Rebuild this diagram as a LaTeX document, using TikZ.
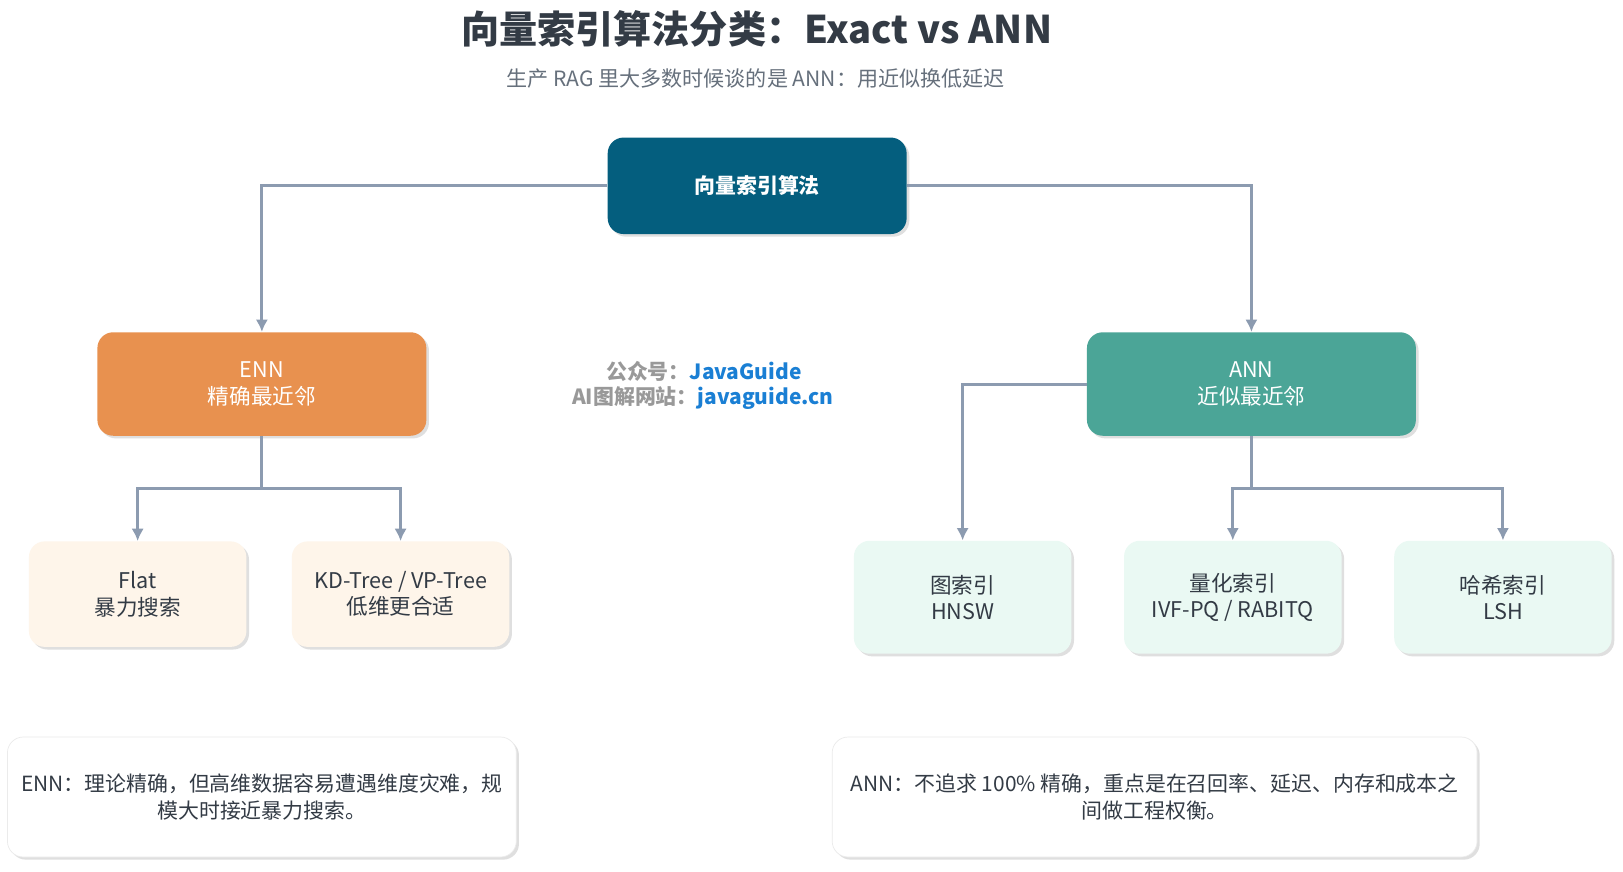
\documentclass[tikz,border=0pt]{standalone}
\usepackage{fontspec}
\setmainfont{Noto Sans CJK SC}
\usetikzlibrary{shadows,arrows.meta}
\definecolor{rootblue}{HTML}{045E7E}
\definecolor{ennorange}{HTML}{E8914F}
\definecolor{annteal}{HTML}{4BA597}
\definecolor{leafcream}{HTML}{FEF5EA}
\definecolor{leafmint}{HTML}{EAF9F3}
\definecolor{wireline}{HTML}{8C9BB0}
\definecolor{titlegray}{HTML}{333B45}
\definecolor{subgray}{HTML}{66707C}
\definecolor{linkblue}{HTML}{1A7FD4}
\tikzset{
  box/.style={rounded corners=9pt,draw=none,align=center,font=\fontsize{12.3}{15}\selectfont,
    drop shadow={shadow xshift=1.5pt,shadow yshift=-1.5pt,opacity=0.25}},
  wire/.style={draw=wireline,line width=1.7pt,-{Latex[length=7pt,width=7pt]}},
  plain/.style={draw=wireline,line width=1.7pt},
  wmark/.style={font=\fontsize{11.9}{14.5}\selectfont\bfseries,text=black!40}
}
\begin{document}
\begin{tikzpicture}[x=0.0207cm,y=-0.0207cm]
  \fill[white] (0,0) rectangle (1568,842);
  \node[font=\fontsize{21.7}{25}\selectfont\bfseries,text=titlegray] (title) at (731,28) {向量索引算法分类：Exact vs ANN};
  \node[font=\fontsize{12}{14}\selectfont,text=subgray] (sub) at (730,76) {生产 RAG 里大多数时候谈的是 ANN：用近似换低延迟};
  % level one
  \node[box,fill=rootblue,text=white,font=\fontsize{11.9}{14}\selectfont\bfseries,minimum width=5.98cm,minimum height=1.93cm] (root) at (731.5,179.5) {向量索引算法};
  \node[box,fill=ennorange,text=white,minimum width=6.58cm,minimum height=2.07cm] (enn) at (253,371) {ENN\\精确最近邻};
  \node[box,fill=annteal,text=white,minimum width=6.58cm,minimum height=2.07cm] (ann) at (1209,371) {ANN\\近似最近邻};
  % leaves
  \node[box,fill=leafcream,text=titlegray,minimum width=4.35cm,minimum height=2.11cm] (flat) at (133,574) {Flat\\暴力搜索};
  \node[box,fill=leafcream,text=titlegray,minimum width=4.35cm,minimum height=2.11cm] (kd) at (387,574) {KD-Tree / VP-Tree\\低维更合适};
  \node[box,fill=leafmint,text=titlegray,minimum width=4.35cm,minimum height=2.26cm] (graph) at (930,577) {图索引\\HNSW};
  \node[box,fill=leafmint,text=titlegray,minimum width=4.35cm,minimum height=2.26cm] (quant) at (1191,577) {量化索引\\IVF-PQ / RABITQ};
  \node[box,fill=leafmint,text=titlegray,minimum width=4.35cm,minimum height=2.26cm] (hash) at (1452,577) {哈希索引\\LSH};
  % notes
  \node[box,fill=white,draw=black!8,text=titlegray,font=\fontsize{11.9}{15}\selectfont,minimum width=10.18cm,minimum height=2.4cm] (ennnote) at (253,770) {ENN：理论精确，但高维数据容易遭遇维度灾难，规\\模大时接近暴力搜索。};
  \node[box,fill=white,draw=black!8,text=titlegray,font=\fontsize{11.9}{15}\selectfont,minimum width=12.9cm,minimum height=2.4cm] (annnote) at (1115.5,770) {ANN：不追求 100\% 精确，重点是在召回率、延迟、内存和成本之\\间做工程权衡。};
  % watermark
  \node[wmark] (wm1) at (680,359) {公众号：\textcolor{linkblue}{JavaGuide}};
  \node[wmark] (wm2) at (679,385) {AI图解网站：\textcolor{linkblue}{javaguide.cn}};
  % connectors
  \draw[wire] (root.west) -| (enn.north);
  \draw[wire] (root.east) -| (ann.north);
  \coordinate (ennj) at (253,472);
  \draw[plain] (enn.south) -- (ennj);
  \draw[wire] (ennj) -| (flat.north);
  \draw[wire] (ennj) -| (kd.north);
  \draw[wire] (ann.west) -| (graph.north);
  \coordinate (annj) at (1209,472);
  \draw[plain] (ann.south) -- (annj);
  \draw[wire] (annj) -| (quant.north);
  \draw[wire] (annj) -| (hash.north);
  \pgfresetboundingbox
  \useasboundingbox (0,0) rectangle (1568,842);
\end{tikzpicture}
\end{document}
